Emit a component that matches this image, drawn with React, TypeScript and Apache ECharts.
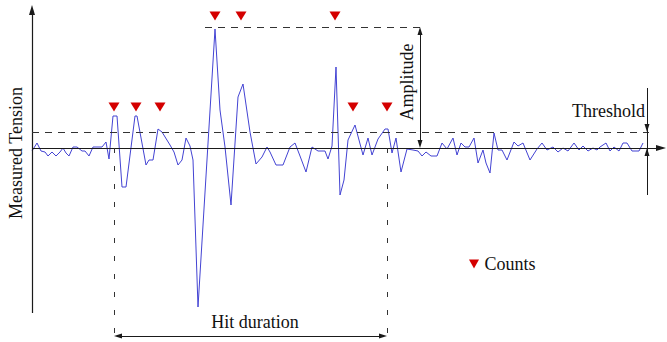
import React, { useEffect, useRef } from "react";
import * as echarts from "echarts";

// Signal samples (time index, measured tension)
const TIME = [0,5,9,13,16,20,24,28,31,34,37,41,45,50,53,57,61,66,70,74,77,81,85,90,94,103,105,114,117,121,126,130,138,142,146,150,154,158,161,166,183,188,193,199,206,211,218,224,230,235,238,244,251,258,263,268,274,280,286,293,296,300,304,308,312,316,323,331,336,340,346,353,356,360,364,369,375,381,386,390,394,399,405,410,415,421,425,429,433,437,442,446,451,454,458,462,466,470,475,482,486,491,498,505,510,515,521,526,531,536,542,547,551,556,561,565,568,574,578,582,587,591,595,600,607,611];
const TENSION = [-3,5,-3,-4,-8,-4,-8,-4,0,-5,-8,1,1,-3,-3,-8,1,1,1,6,-11,32,32,-39,-39,32,32,-17,-12,-12,19,16,3,-4,-17,-12,10,2,-12,-159,119,38,1,-57,51,64,16,-16,-9,1,-4,-17,-17,1,5,-8,-24,1,-3,-3,-11,2,81,-47,-32,8,23,-7,10,-7,9,19,19,-5,10,-24,-1,-2,-3,-8,-4,-8,-8,5,-1,10,-7,5,1,1,10,-15,-2,-15,-25,15,-2,-2,-12,6,2,5,-12,-1,5,-2,1,-4,0,-3,5,-2,2,-3,0,-2,1,5,-3,1,-3,5,5,-3,-3,5];

// Counts (threshold crossings peaks)
const COUNT_TIME = [82, 104, 128, 183, 209, 303, 321, 355];
const COUNT_LEVEL = [41, 41, 41, 132, 132, 132, 41, 41];

const THRESHOLD = 16;
const AMPLITUDE = 121;
const HIT_START = 82;
const HIT_END = 355;

const FONT = "'Liberation Serif', 'Times New Roman', serif";

export default function App() {
  const ref = useRef<HTMLDivElement>(null);
  useEffect(() => {
    if (!ref.current) return;
    const chart = echarts.init(ref.current, null, { renderer: "svg" });
    const black = "#1a1a1a";
    const dashH = { color: "#333", width: 1, type: [7, 6] as any };
    const dashV = { color: "#333", width: 1, type: [5, 13] as any };
    const solid = { color: black, width: 1, type: "solid" as any };
    const arrowBig: any = [6, 10];
    const arrowSmall: any = [5, 8];
    const seg = (a: number[], b: number[], style: any, s0 = "none", s1 = "none", size: any = arrowSmall) => [
      { coord: a, symbol: s0, symbolSize: size, lineStyle: style },
      { coord: b, symbol: s1, symbolSize: size },
    ];
    const signal = TIME.map((t, i) => [t, TENSION[i]]);
    const counts = COUNT_TIME.map((t, i) => [t, COUNT_LEVEL[i]]);
    chart.setOption({
      animation: false,
      grid: { left: 32, top: 5, width: 635, height: 337 },
      xAxis: { type: "value", min: 0, max: 635, show: false },
      yAxis: { type: "value", min: -194, max: 143, show: false },
      legend: {
        data: [{ name: "Counts", icon: "path://M0,0L10,0L5,9Z", itemStyle: { color: "#d40000", opacity: 1 } }],
        left: 469,
        top: 255,
        padding: 0,
        itemWidth: 11,
        itemHeight: 9,
        textStyle: { fontSize: 18, fontFamily: FONT, color: "#111" },
      },
      series: [
        {
          name: "Signal",
          type: "line",
          data: signal,
          symbol: "none",
          clip: false,
          lineStyle: { color: "#4343d3", width: 1 },
          markLine: {
            silent: true,
            animation: false,
            label: { show: false },
            emphasis: { disabled: true },
            data: [
              seg([0, -165], [0, 138], { color: black, width: 1.2, type: "solid" }, "none", "triangle", arrowBig),
              seg([0, 0], [629, 0], { color: black, width: 1.2, type: "solid" }, "none", "triangle", arrowBig),
              seg([0, THRESHOLD], [617, THRESHOLD], dashH),
              seg([173, AMPLITUDE], [388, AMPLITUDE], dashH),
              seg([388, AMPLITUDE - 4], [388, 4], solid, "triangle", "triangle"),
              seg([615, 60], [615, -47], solid),
              seg([615, 60], [615, THRESHOLD + 4], solid, "none", "triangle"),
              seg([615, -47], [615, -4], solid, "none", "triangle"),
              seg([HIT_START, 0], [HIT_START, -188], dashV),
              seg([HIT_END, 0], [HIT_END, -188], dashV),
              seg([HIT_START + 4, -188], [HIT_END - 4, -188], solid, "triangle", "triangle"),
            ],
          },
        },
        {
          name: "Counts",
          type: "scatter",
          data: counts,
          symbol: "triangle",
          symbolRotate: 180,
          symbolSize: [11, 9],
          itemStyle: { color: "#d40000", opacity: 1 },
        },
      ],
      graphic: [
        {
          type: "text",
          x: 16,
          y: 153,
          rotation: Math.PI / 2,
          style: { text: "Measured Tension", fontSize: 18, fontFamily: FONT, fill: "#111", align: "center", verticalAlign: "middle" },
        },
        {
          type: "text",
          x: 407,
          y: 82,
          rotation: Math.PI / 2,
          style: { text: "Amplitude", fontSize: 18, fontFamily: FONT, fill: "#111", align: "center", verticalAlign: "middle" },
        },
        {
          type: "text",
          x: 645,
          y: 111,
          style: { text: "Threshold", fontSize: 18, fontFamily: FONT, fill: "#111", align: "right", verticalAlign: "middle" },
        },
        {
          type: "text",
          x: 255,
          y: 322,
          style: { text: "Hit duration", fontSize: 18, fontFamily: FONT, fill: "#111", align: "center", verticalAlign: "middle" },
        },
      ],
    });
    return () => chart.dispose();
  }, []);
  return <div ref={ref} style={{ position: "absolute", left: 0, top: 0, width: 667, height: 342 }} />;
}
